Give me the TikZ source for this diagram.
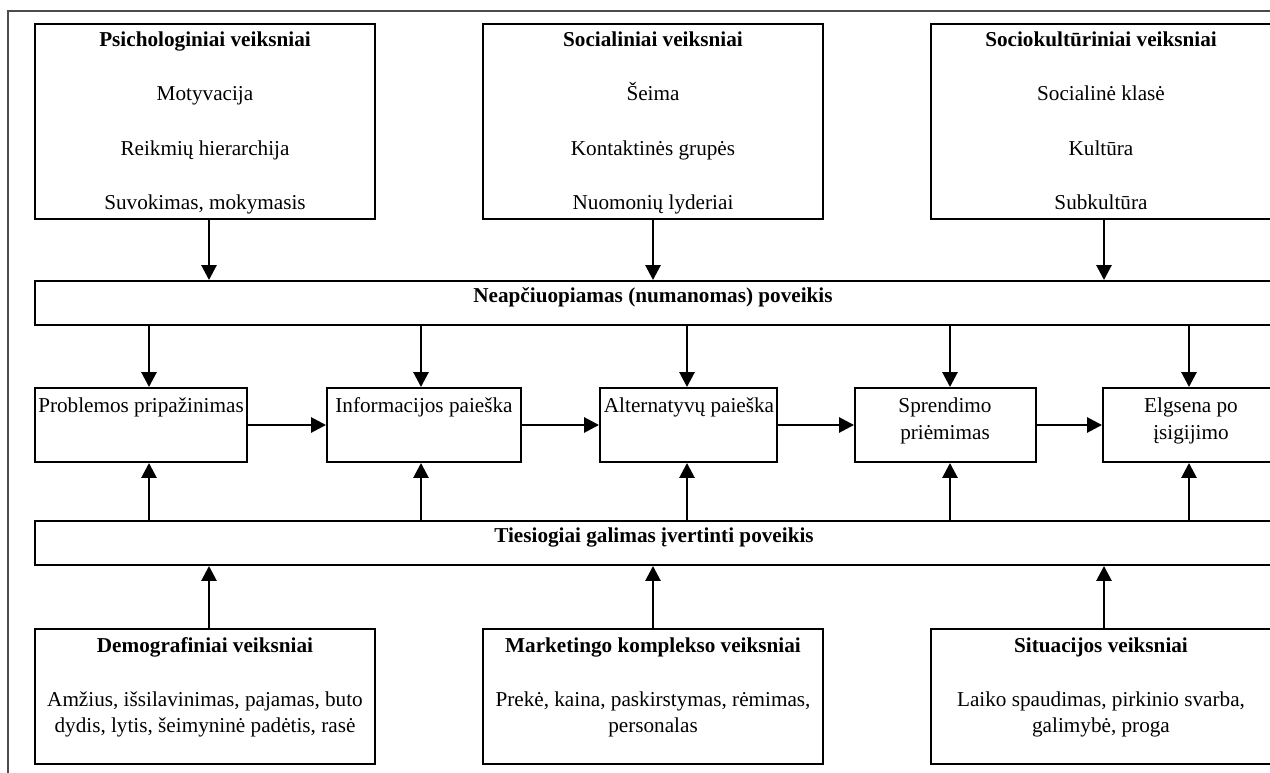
\documentclass[tikz,border=0pt]{standalone}
\usepackage{fontspec}
\setmainfont{Liberation Serif}
\usetikzlibrary{arrows.meta}
\begin{document}
\begin{tikzpicture}[x=1pt,y=-1pt,
  box/.style={draw, line width=1.9pt, inner sep=0pt},
  txt/.style={inner sep=0pt, anchor=base, font=\fontsize{21.2}{26}\selectfont},
  ttl/.style={inner sep=0pt, anchor=base, font=\fontsize{21.2}{26}\selectfont\bfseries},
  arr/.style={line width=2.7pt, -{Triangle[width=15pt,length=15pt]}},
  frame/.style={line width=1.8pt, black!70}]
\useasboundingbox (0,0) rectangle (1270,773);
\clip (0,0) rectangle (1270,773);
% outer frame
\coordinate (fa) at (8,790);
\coordinate (fb) at (8,11);
\coordinate (fc) at (1290,11);
\draw[frame] (fa) -- (fb) -- (fc);
% top boxes
\node[box, minimum width=340pt, minimum height=195pt] (psy) at (205,121.5) {};
\node[box, minimum width=340pt, minimum height=195pt] (soc) at (653,121.5) {};
\node[box, minimum width=340pt, minimum height=195pt] (cul) at (1101,121.5) {};
\node[ttl] (psy0) at (205,47) {Psichologiniai veiksniai};
\node[txt] (psy1) at (205,101) {Motyvacija};
\node[txt] (psy2) at (205,156) {Reikmių hierarchija};
\node[txt] (psy3) at (205,210) {Suvokimas, mokymasis};
\node[ttl] (soc0) at (653,47) {Socialiniai veiksniai};
\node[txt] (soc1) at (653,101) {Šeima};
\node[txt] (soc2) at (653,156) {Kontaktinės grupės};
\node[txt] (soc3) at (653,210) {Nuomonių lyderiai};
\node[ttl] (cul0) at (1101,47) {Sociokultūriniai veiksniai};
\node[txt] (cul1) at (1101,101) {Socialinė klasė};
\node[txt] (cul2) at (1101,156) {Kultūra};
\node[txt] (cul3) at (1101,210) {Subkultūra};
% bars
\node[box, minimum width=1240pt, minimum height=44pt] (neap) at (655,303) {};
\node[ttl] (neapt) at (653,302) {Neapčiuopiamas (numanomas) poveikis};
\node[box, minimum width=1240pt, minimum height=44pt] (ties) at (655,543) {};
\node[ttl] (tiest) at (654,542) {Tiesiogiai galimas įvertinti poveikis};
% process boxes
\node[box, minimum width=212pt, minimum height=74pt] (p1) at (141,425) {};
\node[box, minimum width=194pt, minimum height=74pt] (p2) at (424,425) {};
\node[box, minimum width=177pt, minimum height=74pt] (p3) at (688.5,425) {};
\node[box, minimum width=181pt, minimum height=74pt] (p4) at (945.5,425) {};
\node[box, minimum width=177pt, minimum height=74pt] (p5) at (1191.5,425) {};
\node[txt] (p1t) at (141,412) {Problemos pripažinimas};
\node[txt] (p2t) at (424,412) {Informacijos paieška};
\node[txt] (p3t) at (689,412) {Alternatyvų paieška};
\node[txt] (p4t) at (945,412) {Sprendimo};
\node[txt] (p4u) at (945,439) {priėmimas};
\node[txt] (p5t) at (1191,412) {Elgsena po};
\node[txt] (p5u) at (1191,439) {įsigijimo};
% bottom boxes
\node[box, minimum width=340pt, minimum height=135pt] (dem) at (205,696.5) {};
\node[box, minimum width=340pt, minimum height=135pt] (mkt) at (653,696.5) {};
\node[box, minimum width=340pt, minimum height=135pt] (sit) at (1101,696.5) {};
\node[ttl] (dem0) at (205,652) {Demografiniai veiksniai};
\node[txt] (dem1) at (205,706) {Amžius, išsilavinimas, pajamas, buto};
\node[txt] (dem2) at (205,732) {dydis, lytis, šeimyninė padėtis, rasė};
\node[ttl] (mkt0) at (653,652) {Marketingo komplekso veiksniai};
\node[txt] (mkt1) at (653,706) {Prekė, kaina, paskirstymas, rėmimas,};
\node[txt] (mkt2) at (653,732) {personalas};
\node[ttl] (sit0) at (1101,652) {Situacijos veiksniai};
\node[txt] (sit1) at (1101,706) {Laiko spaudimas, pirkinio svarba,};
\node[txt] (sit2) at (1101,732) {galimybė, proga};
% arrow x positions
\coordinate (ax1) at (209,0);
\coordinate (ax2) at (653,0);
\coordinate (ax3) at (1104,0);
\coordinate (bx1) at (149,0);
\coordinate (bx2) at (421,0);
\coordinate (bx3) at (687,0);
\coordinate (bx4) at (950,0);
\coordinate (bx5) at (1189,0);
% top to bar
\draw[arr] (psy.south -| ax1) -- (neap.north -| ax1);
\draw[arr] (soc.south -| ax2) -- (neap.north -| ax2);
\draw[arr] (cul.south -| ax3) -- (neap.north -| ax3);
% bar to process
\draw[arr] (neap.south -| bx1) -- (p1.north -| bx1);
\draw[arr] (neap.south -| bx2) -- (p2.north -| bx2);
\draw[arr] (neap.south -| bx3) -- (p3.north -| bx3);
\draw[arr] (neap.south -| bx4) -- (p4.north -| bx4);
\draw[arr] (neap.south -| bx5) -- (p5.north -| bx5);
% process chain
\draw[arr] (p1.east) -- (p2.west);
\draw[arr] (p2.east) -- (p3.west);
\draw[arr] (p3.east) -- (p4.west);
\draw[arr] (p4.east) -- (p5.west);
% ties bar to process
\draw[arr] (ties.north -| bx1) -- (p1.south -| bx1);
\draw[arr] (ties.north -| bx2) -- (p2.south -| bx2);
\draw[arr] (ties.north -| bx3) -- (p3.south -| bx3);
\draw[arr] (ties.north -| bx4) -- (p4.south -| bx4);
\draw[arr] (ties.north -| bx5) -- (p5.south -| bx5);
% bottom boxes to ties bar
\draw[arr] (dem.north -| ax1) -- (ties.south -| ax1);
\draw[arr] (mkt.north -| ax2) -- (ties.south -| ax2);
\draw[arr] (sit.north -| ax3) -- (ties.south -| ax3);
\end{tikzpicture}
\end{document}
